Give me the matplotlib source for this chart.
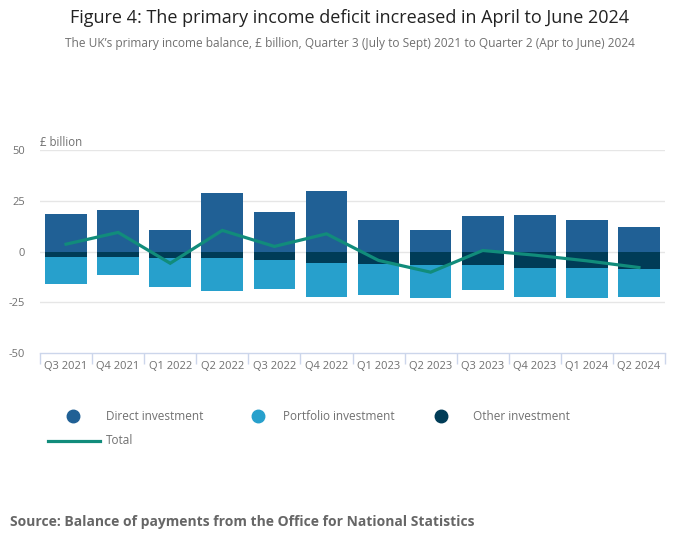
import numpy as np
import matplotlib.pyplot as plt
from matplotlib.lines import Line2D

plt.rcParams['font.family'] = ['Open Sans', 'DejaVu Sans']

# Quarterly primary income balance components, £ billion
quarters = ["Q3 2021", "Q4 2021", "Q1 2022", "Q2 2022", "Q3 2022", "Q4 2022",
            "Q1 2023", "Q2 2023", "Q3 2023", "Q4 2023", "Q1 2024", "Q2 2024"]
direct = [18.6, 20.6, 10.7, 28.9, 19.6, 29.9, 15.6, 10.7, 17.6, 18.1, 15.6, 12.2]
other = [-2.5, -2.5, -3.0, -3.0, -4.1, -5.6, -6.1, -6.6, -6.6, -8.1, -8.1, -8.6]
portfolio = [-13.5, -9.3, -14.3, -16.7, -14.3, -16.6, -15.1, -16.1, -12.3, -14.1, -14.6, -13.6]
total = [3.6, 9.4, -5.8, 10.4, 2.5, 8.7, -4.4, -10.2, 0.5, -1.8, -4.6, -7.9]

c_direct = "#206095"
c_port = "#27a0cc"
c_other = "#003c57"
c_total = "#118c7b"
grey = "#707070"

fig = plt.figure(figsize=(7, 5.49), dpi=100)
ax = fig.add_axes([40/700, 1-353/549, 625/700, 203/549])

x = np.arange(len(quarters))
ax.bar(x, direct, width=0.8, color=c_direct, zorder=2)
ax.bar(x, other, width=0.8, color=c_other, zorder=2)
ax.bar(x, portfolio, width=0.8, bottom=other, color=c_port, zorder=2)
ax.plot(x, total, color=c_total, lw=2.3, zorder=3, solid_joinstyle='miter')

ax.set_xlim(-0.5, len(quarters)-0.5)
ax.set_ylim(-50, 50)
ax.set_yticks([-50, -25, 0, 25, 50])
ax.set_yticklabels(["-50", "-25", "0", "25", "50"])
for v in [0, 25, 50, -25]:
    ax.axhline(v, color="#e6e6e6", lw=1, zorder=1)

ax.set_xticks(x)
ax.set_xticklabels(quarters)
ax.set_xticks(np.arange(-0.5, len(quarters), 1), minor=True)
ax.tick_params(axis='x', which='major', length=0, labelsize=8, colors=grey, pad=6)
ax.tick_params(axis='x', which='minor', length=8, color="#ccd6eb", width=1)
ax.tick_params(axis='y', length=0, labelsize=8, colors=grey, pad=11)

for s in ['top', 'right', 'left']:
    ax.spines[s].set_visible(False)
ax.spines['bottom'].set_color("#ccd6eb")
ax.spines['bottom'].set_linewidth(1)

fig.text(40/700, 1-143/549, "£ billion", fontsize=8.3, color=grey, ha='left', va='center')

fig.text(0.5, 1-18/549, "Figure 4: The primary income deficit increased in April to June 2024",
         fontsize=13.0, color="#222222", ha='center', va='center')
fig.text(0.5, 1-44/549,
         "The UK\u2019s primary income balance, \u00a3 billion, Quarter 3 (July to Sept) 2021 to Quarter 2 (Apr to June) 2024",
         fontsize=8.55, color=grey, ha='center', va='center')

# legend, drawn by hand to match layout
leg_items = [(73, 106, c_direct, "Direct investment"),
             (258, 283, c_port, "Portfolio investment"),
             (441, 473, c_other, "Other investment")]
for mx, tx, col, lab in leg_items:
    fig.add_artist(Line2D([mx/700], [1-416/549], marker='o', markersize=9,
                          color=col, linestyle='none', transform=fig.transFigure))
    fig.text(tx/700, 1-416/549, lab, fontsize=8.5, color=grey, ha='left', va='center')
fig.add_artist(Line2D([48/700, 100/700], [1-441/549, 1-441/549], color=c_total,
                      lw=2.3, transform=fig.transFigure))
fig.text(106/700, 1-441/549, "Total", fontsize=8.5, color=grey, ha='left', va='center')

fig.text(10/700, 1-522/549, "Source: Balance of payments from the Office for National Statistics",
         fontsize=10, fontweight='bold', color="#666666", ha='left', va='center')

fig.savefig("out.png", dpi=100)
